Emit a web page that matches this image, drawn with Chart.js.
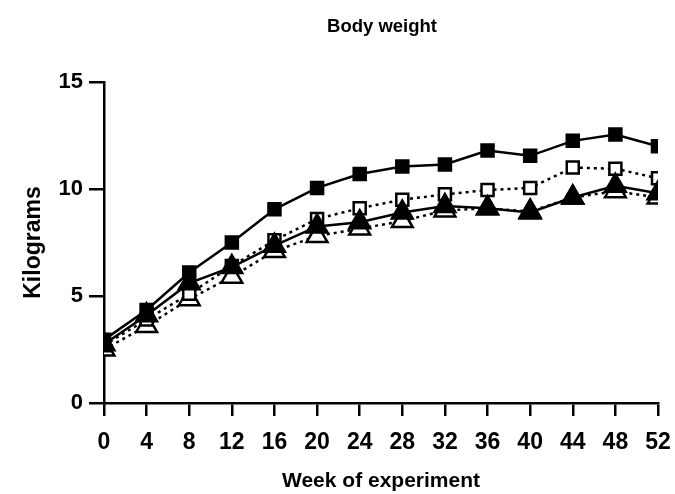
<!DOCTYPE html>
<html>
<head>
<meta charset="utf-8">
<script src="https://cdn.jsdelivr.net/npm/chart.js@4"></script>
<style>
    html, body { margin: 0; padding: 0; background: #fff; }
    #wrap { width: 675px; height: 494px; }
</style>
</head>
<body>
<div id="wrap"><canvas id="chart" width="675" height="494"></canvas></div>
<script>
// Weeks on the x axis
const weeks = [0, 4, 8, 12, 16, 20, 24, 28, 32, 36, 40, 44, 48, 52];

// Body weight (kg) per group
const filledSquare   = [2.95, 4.35, 6.1, 7.5, 9.05, 10.05, 10.7, 11.05, 11.15, 11.8, 11.55, 12.25, 12.55, 12.0];
const openSquare     = [2.7, 3.9, 5.1, 6.4, 7.6, 8.6, 9.1, 9.5, 9.75, 9.95, 10.05, 11.0, 10.95, 10.5];
const filledTriangle = [2.75, 4.1, 5.6, 6.35, 7.35, 8.25, 8.45, 8.9, 9.2, 9.1, 8.9, 9.6, 10.15, 9.8];
const openTriangle   = [2.5, 3.6, 4.85, 5.9, 7.1, 7.8, 8.15, 8.5, 9.0, 9.1, 8.95, 9.6, 9.9, 9.6];

const yTicks = [0, 5, 10, 15];
const chartTitle = 'Body weight';

const toPoints = values => weeks.map((w, i) => ({ x: w, y: values[i] }));
const FONT = '"Liberation Sans", Arial, sans-serif';

function series(label, values, style, fill, dashed, radius) {
    return {
        label: label,
        data: toPoints(values),
        borderColor: '#000',
        borderWidth: 2.5,
        borderDash: dashed ? [3, 4] : [],
        pointStyle: style,
        pointRadius: radius,
        pointBorderWidth: 2.5,
        pointBorderColor: '#000',
        pointBackgroundColor: fill ? '#000' : '#fff',
        tension: 0,
        fill: false
    };
}

// title centred over the plot area, not the whole canvas
const plotTitle = {
    id: 'plotTitle',
    afterDraw(chart) {
        const { ctx, chartArea } = chart;
        ctx.save();
        ctx.fillStyle = '#000';
        ctx.font = 'bold 18.5px ' + FONT;
        ctx.textAlign = 'center';
        ctx.textBaseline = 'middle';
        ctx.fillText(chartTitle, (chartArea.left + chartArea.right) / 2 + 1, 27);
        ctx.restore();
    }
};

new Chart(document.getElementById('chart'), {
    type: 'line',
    data: {
        datasets: [
            series('Filled triangle', filledTriangle, 'triangle', true, false, 12),
            series('Open square', openSquare, 'rect', false, true, 8.5),
            series('Open triangle', openTriangle, 'triangle', false, true, 12),
            series('Filled square', filledSquare, 'rect', true, false, 8.5)
        ]
    },
    plugins: [plotTitle],
    options: {
        responsive: false,
        animation: false,
        layout: { padding: { left: 0, right: 17, top: 82, bottom: 0 } },
        plugins: {
            legend: { display: false },
            tooltip: { enabled: false },
            title: { display: false }
        },
        scales: {
            x: {
                type: 'linear',
                min: 0,
                max: 52,
                afterFit: axis => {
                    axis.height = 91;
                    axis.paddingLeft = 0;
                    axis.paddingRight = 0;
                },
                border: { display: true, color: '#000', width: 2.5 },
                grid: { display: true, drawOnChartArea: false, drawTicks: true, tickLength: 13, color: '#000', lineWidth: 2.5 },
                ticks: {
                    stepSize: 4,
                    color: '#000',
                    padding: 13,
                    maxRotation: 0,
                    autoSkip: false,
                    font: { family: FONT, size: 23, weight: 'bold' }
                },
                title: {
                    display: true,
                    text: 'Week of experiment',
                    color: '#000',
                    padding: { top: 0, bottom: 0 },
                    font: { family: FONT, size: 21, weight: 'bold' }
                }
            },
            y: {
                min: 0,
                max: 15,
                afterBuildTicks: axis => { axis.ticks = yTicks.map(v => ({ value: v })); },
                afterFit: axis => { axis.width = 104; },
                border: { display: true, color: '#000', width: 2.5 },
                grid: { display: true, drawOnChartArea: false, drawTicks: true, tickLength: 15, color: '#000', lineWidth: 2.5 },
                ticks: {
                    color: '#000',
                    padding: 6,
                    font: { family: FONT, size: 22, weight: 'bold' }
                },
                title: {
                    display: true,
                    text: 'Kilograms',
                    color: '#000',
                    padding: { top: 20, bottom: 0 },
                    font: { family: FONT, size: 23, weight: 'bold' }
                }
            }
        }
    }
});
</script>
</body>
</html>
